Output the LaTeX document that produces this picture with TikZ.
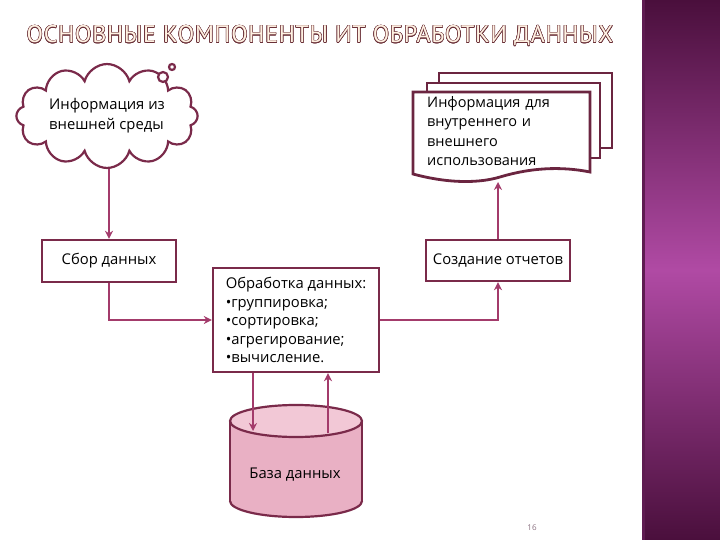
\documentclass[tikz,border=0pt]{standalone}
\usepackage{fontspec}
\setmainfont{Open Sans}
\newfontfamily\titlefont[LetterSpace=3]{PT Sans}
\usepackage{contour}
\contourlength{0.5pt}
\usetikzlibrary{arrows.meta,positioning,calc,shapes.geometric,shapes.symbols}
\definecolor{maroon}{HTML}{7A2A4A}
\definecolor{darkmaroon}{HTML}{6B2540}
\definecolor{arrowpink}{HTML}{A33B6B}
\definecolor{dbbody}{HTML}{E9B0C4}
\definecolor{dbtop}{HTML}{F2C8D6}
\definecolor{barmid}{HTML}{B04AA4}
\definecolor{bardark}{HTML}{4A0F3C}
\definecolor{titlefill}{HTML}{FFF1E2}
\definecolor{titleline}{HTML}{6A3038}
\definecolor{pagegray}{HTML}{8A7080}

\begin{document}
\begin{tikzpicture}[x=1pt,y=-1pt,>=Stealth,
  blk/.style={draw=maroon,line width=2.4pt,fill=white,inner sep=4pt,
    font=\fontsize{14.8}{18.5}\selectfont},
  arr/.style={-{Stealth[length=8pt,width=8pt]},line width=2.2pt,arrowpink},
  sheet/.style={draw=darkmaroon,line width=2.8pt,fill=white},
  dbline/.style={draw=maroon,line width=2.2pt}]
\useasboundingbox (0,0) rectangle (720,540);
\clip (0,0) rectangle (720,540);
% side bar
\shade[top color=bardark,bottom color=bardark,middle color=barmid] (642,0) rectangle (720,540);
\fill[bardark!80!barmid] (642,0) rectangle (645,540);
% title
\node[font=\titlefont\fontsize{24}{24}\selectfont,text=titlefill] (title) at (320,36)
  {\contour{titleline}{ОСНОВНЫЕ КОМПОНЕНТЫ ИТ ОБРАБОТКИ ДАННЫХ}};
% cloud
\node[cloud,cloud puffs=12,aspect=2.4,draw=maroon,line width=2.2pt,fill=white,
  minimum width=178,minimum height=88,align=left,
  font=\fontsize{14.8}{20}\selectfont] (cloud) at (107,116)
  {Информация из\\внешней среды};
\draw[maroon,line width=2.2pt,fill=white] (163,77) circle (5);
\draw[maroon,line width=2.2pt,fill=white] (172,67) circle (3);
% document stack
\draw[sheet] (439,73) rectangle (612,148);
\draw[sheet] (427,83) rectangle (600,158);
\draw[sheet] (413,92) -- (590,92) -- (590,172)
  .. controls (560,166) and (530,168) .. (500,177)
  .. controls (480,183) and (450,184) .. (413,174) -- cycle;
\node[align=left,text width=160,inner sep=0,anchor=north west,
  font=\fontsize{14.5}{19.5}\selectfont] (doc) at (427,96)
  {Информация для\\внутреннего и\\внешнего\\использования};
\coordinate (docbot) at (498,182);
% process boxes
\node[blk,minimum width=134,minimum height=42] (col) at (109,261) {Сбор данных};
\node[blk,minimum width=144,minimum height=41] (rep) at (498,260.5) {Создание отчетов};
\node[blk,minimum width=166,minimum height=104,align=left] (proc) at (296,320)
  {Обработка данных:\\•группировка;\\•сортировка;\\•агрегирование;\\•вычисление.};
% database
\fill[dbbody] (296,501) ellipse (66 and 16);
\fill[dbbody] (230,421) rectangle (362,501);
\begin{scope}
  \clip (220,501) rectangle (372,530);
  \draw[dbline] (296,501) ellipse (66 and 16);
\end{scope}
\draw[dbline] (230,421) -- (230,501);
\draw[dbline] (362,421) -- (362,501);
\draw[dbline,fill=dbtop] (296,421) ellipse (66 and 16);
\node[font=\fontsize{14.8}{16}\selectfont] (dblabel) at (295,475) {База данных};
\coordinate (dbin) at (253,431);
\coordinate (dbout) at (328,433);
% connectors
\draw[arr] (col.north |- cloud.south) -- (col.north);
\draw[arr] (col.south) |- (proc.west);
\draw[arr] (proc.east) -| (rep.south);
\draw[arr] (rep.north) -- (docbot);
\draw[arr] (proc.south -| dbin) -- (dbin);
\draw[arr] (dbout) -- (proc.south -| dbout);
% page number
\node[font=\fontsize{8}{8}\selectfont,text=pagegray] (pg) at (532,528) {16};
\end{tikzpicture}
\end{document}
